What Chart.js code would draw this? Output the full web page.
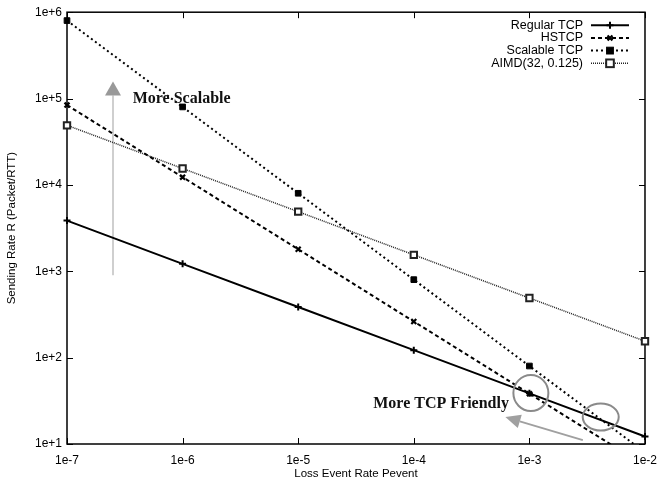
<!DOCTYPE html>
<html>
<head>
<meta charset="utf-8">
<script src="https://cdn.jsdelivr.net/npm/chart.js@4/dist/chart.umd.min.js"></script>
<style>
  html, body { margin: 0; padding: 0; background: #fff; }
  #wrap { width: 666px; height: 487px; }
</style>
</head>
<body>
<div id="wrap"><canvas id="chart" width="666" height="487"></canvas></div>
<script>
// loss event rates (x) and sending rates (y) per protocol
var lossRates = [1e-7, 1e-6, 1e-5, 1e-4, 1e-3, 1e-2];
var regularTcp = [3860, 1220, 386, 122, 38.6, 12.2];
var hstcp = [84000, 12300, 1800, 262, 38.3, 5.6];
var scalableTcp = [800000, 80000, 8000, 800, 80, 8];
var aimd = [49000, 15500, 4900, 1550, 490, 155];
var seriesNames = ["Regular TCP", "HSTCP", "Scalable TCP", "AIMD(32, 0.125)"];
var xTicks = [1e-7, 1e-6, 1e-5, 1e-4, 1e-3, 1e-2];
var yTicks = [1e1, 1e2, 1e3, 1e4, 1e5, 1e6];

// annotation anchors, in data units
var notes = {
    upArrow: { x: 2.5e-7, from: 900, to: 1.58e5 },
    scalableText: { x: 3.7e-7, y: 9.8e4, text: "More Scalable" },
    friendlyText: { x: 4.46e-5, y: 29, text: "More TCP Friendly" },
    leftArrow: { x1: 2.9e-3, y1: 11.1, x2: 6.2e-4, y2: 20.5 },
    rings: [
        { x: 1.03e-3, y: 38.9, rx: 17.5, ry: 18 },
        { x: 4.14e-3, y: 20.5, rx: 18, ry: 13.5 },
    ],
};

var FONT = "'Liberation Sans', Arial, sans-serif";

function points(values) {
    return values.map(function (v, i) {
        return { x: lossRates[i], y: v };
    });
}

var styles = [
    { borderWidth: 2, borderDash: [], pointStyle: "cross", pointRadius: 3.5, pointBorderWidth: 2, pointBackgroundColor: "#000", color: "#000" },
    { borderWidth: 2, borderDash: [4, 3], pointStyle: "crossRot", pointRadius: 3.5, pointBorderWidth: 2.2, pointBackgroundColor: "#000", color: "#000" },
    { borderWidth: 2, borderDash: [2, 3], pointStyle: "rect", pointRadius: 4, pointBorderWidth: 1, pointBackgroundColor: "#000", color: "#000" },
    { borderWidth: 1.5, borderDash: [1, 1], pointStyle: "rect", pointRadius: 4.5, pointBorderWidth: 2, pointBackgroundColor: "#fff", color: "#222" },
];
var allValues = [regularTcp, hstcp, scalableTcp, aimd];

var datasets = allValues.map(function (vals, i) {
    var s = styles[i];
    return {
        label: seriesNames[i],
        data: points(vals),
        borderColor: s.color,
        borderWidth: s.borderWidth,
        borderDash: s.borderDash,
        pointStyle: s.pointStyle,
        pointRadius: s.pointRadius,
        pointBorderWidth: s.pointBorderWidth,
        pointBorderColor: s.color,
        pointBackgroundColor: s.pointBackgroundColor,
        tension: 0,
        fill: false,
        clip: { left: 8, top: 8, right: 8, bottom: 0 },
    };
});

function arrow(ctx, x1, y1, x2, y2, headLen, headW, lineColor, headColor, lw) {
    var ang = Math.atan2(y2 - y1, x2 - x1);
    var bx = x2 - headLen * Math.cos(ang);
    var by = y2 - headLen * Math.sin(ang);
    ctx.save();
    ctx.setLineDash([]);
    ctx.strokeStyle = lineColor;
    ctx.lineWidth = lw;
    ctx.beginPath();
    ctx.moveTo(x1, y1);
    ctx.lineTo(bx, by);
    ctx.stroke();
    ctx.fillStyle = headColor;
    ctx.beginPath();
    ctx.moveTo(x2, y2);
    ctx.lineTo(bx + headW * Math.sin(ang), by - headW * Math.cos(ang));
    ctx.lineTo(bx - headW * Math.sin(ang), by + headW * Math.cos(ang));
    ctx.closePath();
    ctx.fill();
    ctx.restore();
}

var framePlugin = {
    id: "frame",
    beforeDatasetsDraw: function (chart) {
        var ctx = chart.ctx;
        var a = chart.chartArea;
        var x = chart.scales.x, y = chart.scales.y;
        // box and inward ticks
        ctx.save();
        ctx.setLineDash([]);
        ctx.strokeStyle = "#000";
        ctx.lineWidth = 1.5;
        ctx.strokeRect(a.left, a.top, a.right - a.left, a.bottom - a.top);
        ctx.lineWidth = 1;
        xTicks.forEach(function (t) {
            var px = Math.round(x.getPixelForValue(t)) + 0.5;
            ctx.beginPath();
            ctx.moveTo(px, a.bottom); ctx.lineTo(px, a.bottom - 6);
            ctx.moveTo(px, a.top); ctx.lineTo(px, a.top + 6);
            ctx.stroke();
        });
        yTicks.forEach(function (t) {
            var py = Math.round(y.getPixelForValue(t)) + 0.5;
            ctx.beginPath();
            ctx.moveTo(a.left, py); ctx.lineTo(a.left + 6, py);
            ctx.moveTo(a.right, py); ctx.lineTo(a.right - 6, py);
            ctx.stroke();
        });
        ctx.restore();
        // vertical "more scalable" arrow sits behind the lines
        var ua = notes.upArrow;
        arrow(ctx, x.getPixelForValue(ua.x), y.getPixelForValue(ua.from),
            x.getPixelForValue(ua.x), y.getPixelForValue(ua.to), 14, 8, "#cfcfcf", "#999", 2);
    },
    afterDatasetsDraw: function (chart) {
        var ctx = chart.ctx;
        var a = chart.chartArea;
        var x = chart.scales.x, y = chart.scales.y;
        ctx.save();

        // rings around crossover points
        ctx.strokeStyle = "#8a8a8a";
        ctx.lineWidth = 2;
        notes.rings.forEach(function (r) {
            ctx.beginPath();
            ctx.ellipse(x.getPixelForValue(r.x), y.getPixelForValue(r.y), r.rx, r.ry, 0, 0, Math.PI * 2);
            ctx.stroke();
        });
        var la = notes.leftArrow;
        arrow(ctx, x.getPixelForValue(la.x1), y.getPixelForValue(la.y1),
            x.getPixelForValue(la.x2), y.getPixelForValue(la.y2), 15, 7, "#a0a0a0", "#a0a0a0", 2);

        // annotation text
        ctx.fillStyle = "#111";
        ctx.font = "bold 16px 'Liberation Serif', 'Times New Roman', serif";
        ctx.textAlign = "left";
        ctx.textBaseline = "middle";
        [notes.scalableText, notes.friendlyText].forEach(function (n) {
            ctx.fillText(n.text, x.getPixelForValue(n.x), y.getPixelForValue(n.y));
        });

        // legend, text right-aligned with sample to its right
        ctx.font = "12.5px " + FONT;
        ctx.textAlign = "right";
        var top = a.top + 13;
        seriesNames.forEach(function (name, i) {
            var s = styles[i];
            var ly = top + i * 12.7;
            ctx.fillStyle = "#000";
            ctx.fillText(name, a.right - 62, ly);
            ctx.strokeStyle = s.color;
            ctx.lineWidth = s.borderWidth;
            ctx.setLineDash(s.borderDash);
            ctx.beginPath();
            ctx.moveTo(a.right - 54, ly);
            ctx.lineTo(a.right - 16, ly);
            ctx.stroke();
            ctx.setLineDash([]);
            ctx.fillStyle = s.pointBackgroundColor;
            ctx.strokeStyle = s.color;
            ctx.lineWidth = s.pointBorderWidth;
            if (s.pointStyle === "rect") {
                var r = s.pointRadius * 0.85;
                ctx.fillRect(a.right - 35 - r, ly - r, 2 * r, 2 * r);
                ctx.strokeRect(a.right - 35 - r, ly - r, 2 * r, 2 * r);
            } else {
                Chart.helpers.drawPoint(ctx, {
                    pointStyle: s.pointStyle,
                    radius: s.pointRadius,
                    borderWidth: s.pointBorderWidth,
                    rotation: 0,
                }, a.right - 35, ly);
            }
        });
        ctx.restore();
    },
};

new Chart(document.getElementById("chart"), {
    type: "line",
    data: { datasets: datasets },
    options: {
        responsive: false,
        animation: false,
        layout: { padding: { top: 12, right: 12, left: 0, bottom: 0 } },
        plugins: {
            legend: { display: false },
            tooltip: { enabled: false },
        },
        scales: {
            x: {
                type: "logarithmic",
                min: 1e-7,
                max: 1e-2,
                afterBuildTicks: function (scale) {
                    scale.ticks = xTicks.map(function (v) { return { value: v }; });
                },
                afterFit: function (scale) { scale.height = 43; },
                grid: { display: false, drawTicks: false },
                border: { display: false },
                ticks: {
                    color: "#000",
                    padding: 9,
                    maxRotation: 0,
                    font: { family: FONT, size: 12 },
                    callback: function (v) { return Number(v).toExponential(0); },
                },
                title: {
                    display: true,
                    text: "Loss Event Rate Pevent",
                    color: "#000",
                    font: { family: FONT, size: 11.5 },
                    padding: { top: 0, bottom: 6 },
                },
            },
            y: {
                type: "logarithmic",
                min: 1e1,
                max: 1e6,
                afterBuildTicks: function (scale) {
                    scale.ticks = yTicks.map(function (v) { return { value: v }; });
                },
                afterFit: function (scale) { scale.width = 67; },
                grid: { display: false, drawTicks: false },
                border: { display: false },
                ticks: {
                    color: "#000",
                    padding: 5,
                    font: { family: FONT, size: 12 },
                    callback: function (v) { return Number(v).toExponential(0); },
                },
                title: {
                    display: true,
                    text: "Sending Rate R (Packet/RTT)",
                    color: "#000",
                    font: { family: FONT, size: 11.5 },
                    padding: { top: 5, bottom: 0 },
                },
            },
        },
    },
    plugins: [framePlugin],
});
</script>
</body>
</html>
